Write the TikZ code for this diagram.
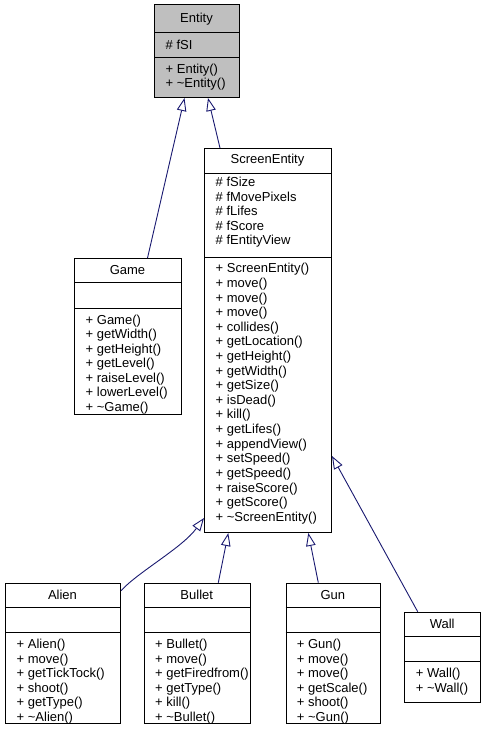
\documentclass[tikz,border=0pt]{standalone}
\usepackage{fontspec}
\setmainfont{Liberation Sans}
\usetikzlibrary{arrows.meta,calc}

\definecolor{edgeblue}{HTML}{191970}
\definecolor{basegray}{HTML}{BFBFBF}

\tikzset{
  classbox/.style={draw=black, line width=1pt, inner sep=0pt, anchor=north west, fill=white},
  divider/.style={draw=black, line width=1pt},
  titletext/.style={inner sep=0pt, font=\fontsize{13}{14.5}\selectfont},
  rowtext/.style={inner sep=0pt, anchor=west, align=left, font=\fontsize{13}{14.5}\selectfont},
  oprows/.style={rowtext, font=\fontsize{13}{14.62}\selectfont},
  inherit/.style={draw=edgeblue, line width=0.9pt, -{Triangle[open, length=13pt, width=9.5pt]}}
}

% divider line at a given depth below the top edge of a class box
\newcommand{\classrule}[2]{%
  \draw[divider] ([yshift=-#2pt]#1.north west) -- ([yshift=-#2pt]#1.north east);}

\begin{document}
\begin{tikzpicture}[x=1pt, y=-1pt]
\useasboundingbox (0,0) rectangle (485,739);

% ---------- Entity ----------
\node[classbox, fill=basegray, minimum width=85pt, minimum height=93pt] (entity) at (154,4) {};
\classrule{entity}{28}
\classrule{entity}{53}
\node[titletext] (entityName) at (196.5,19.5) {Entity};
\node[rowtext] (entityAttr) at (165.5,44.5) {\# fSI};
\node[rowtext] (entityOps) at (165.5,77.25) {+ Entity()\\+ \textasciitilde Entity()};

% ---------- ScreenEntity ----------
\node[classbox, minimum width=127pt, minimum height=384pt] (screen) at (204,148) {};
\classrule{screen}{25.5}
\classrule{screen}{109}
\node[titletext] (screenName) at (267.5,160.5) {ScreenEntity};
\node[rowtext] (screenAttr) at (215.5,212.4) {\# fSize\\\# fMovePixels\\\# fLifes\\\# fScore\\\# fEntityView};
\node[oprows] (screenOps) at (215.5,393.7) {+ ScreenEntity()\\+ move()\\+ move()\\+ move()\\+ collides()\\+ getLocation()\\+ getHeight()\\+ getWidth()\\+ getSize()\\+ isDead()\\+ kill()\\+ getLifes()\\+ appendView()\\+ setSpeed()\\+ getSpeed()\\+ raiseScore()\\+ getScore()\\+ \textasciitilde ScreenEntity()};

% ---------- Game ----------
\node[classbox, minimum width=107pt, minimum height=156pt] (game) at (74,258) {};
\classrule{game}{24.5}
\classrule{game}{50}
\node[titletext] (gameName) at (127.5,270) {Game};
\node[rowtext] (gameOps) at (85.5,364.2) {+ Game()\\+ getWidth()\\+ getHeight()\\+ getLevel()\\+ raiseLevel()\\+ lowerLevel()\\+ \textasciitilde Game()};

% ---------- Alien ----------
\node[classbox, minimum width=115pt, minimum height=140pt] (alien) at (5,582.7) {};
\classrule{alien}{24.6}
\classrule{alien}{50}
\node[titletext] (alienName) at (62.5,595) {Alien};
\node[rowtext] (alienOps) at (16.5,681.4) {+ Alien()\\+ move()\\+ getTickTock()\\+ shoot()\\+ getType()\\+ \textasciitilde Alien()};

% ---------- Bullet ----------
\node[classbox, minimum width=105.5pt, minimum height=140pt] (bullet) at (144,582.7) {};
\classrule{bullet}{24.6}
\classrule{bullet}{50}
\node[titletext] (bulletName) at (196.75,595) {Bullet};
\node[rowtext] (bulletOps) at (155,681.4) {+ Bullet()\\+ move()\\+ getFiredfrom()\\+ getType()\\+ kill()\\+ \textasciitilde Bullet()};

% ---------- Gun ----------
\node[classbox, minimum width=94.3pt, minimum height=140pt] (gun) at (285.7,582.7) {};
\classrule{gun}{24.6}
\classrule{gun}{50}
\node[titletext] (gunName) at (332.85,595) {Gun};
\node[rowtext] (gunOps) at (296.7,681.4) {+ Gun()\\+ move()\\+ move()\\+ getScale()\\+ shoot()\\+ \textasciitilde Gun()};

% ---------- Wall ----------
\node[classbox, minimum width=75.7pt, minimum height=90pt] (wall) at (404.3,611.7) {};
\classrule{wall}{25}
\classrule{wall}{50}
\node[titletext] (wallName) at (442.15,624) {Wall};
\node[rowtext] (wallOps) at (415.7,681.7) {+ Wall()\\+ \textasciitilde Wall()};

% ---------- inheritance ----------
\draw[inherit] ([xshift=73.5pt]game.north west) -- ([xshift=30.5pt]entity.south west);
\draw[inherit] ([xshift=16pt]screen.north west) -- ([xshift=54pt]entity.south west);
\draw[inherit] ([yshift=-8pt]alien.north east) .. controls (138,572) and (182,548) .. ([yshift=15pt]screen.south west);
\draw[inherit] ([xshift=74.3pt]bullet.north west) -- ([xshift=24.3pt]screen.south west);
\draw[inherit] ([xshift=32.6pt]gun.north west) -- ([xshift=104.3pt]screen.south west);
\draw[inherit] ([xshift=13.4pt]wall.north west) -- ([yshift=77pt]screen.south east);
\end{tikzpicture}
\end{document}
